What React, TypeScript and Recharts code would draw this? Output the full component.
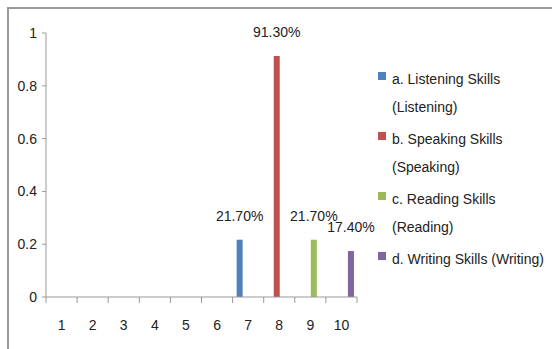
import { BarChart, Bar, XAxis, YAxis, LabelList } from 'recharts'

const categories = ['1', '2', '3', '4', '5', '6', '7', '8', '9', '10']
const listening = [null, null, null, null, null, null, 0.217, null, null, null]
const speaking = [null, null, null, null, null, null, null, 0.913, null, null]
const reading = [null, null, null, null, null, null, null, null, 0.217, null]
const writing = [null, null, null, null, null, null, null, null, null, 0.174]
const yTicks = [0, 0.2, 0.4, 0.6, 0.8, 1]

const seriesKeys = ['listening', 'speaking', 'reading', 'writing']
const seriesNames = [
  'a. Listening Skills (Listening)',
  'b. Speaking Skills (Speaking)',
  'c. Reading Skills (Reading)',
  'd. Writing Skills (Writing)',
]
const seriesColors = ['#4F81BD', '#C0504D', '#9BBB59', '#8064A2']

const rows = categories.map((name, i) => ({
  name,
  listening: listening[i],
  speaking: speaking[i],
  reading: reading[i],
  writing: writing[i],
}))

const FONT = "'Liberation Sans', Arial, sans-serif"
const W = 552
const H = 349
const MARGIN = { top: 33, right: 195, left: 0, bottom: 22 }
const Y_AXIS_W = 46
const BAND = (W - MARGIN.left - MARGIN.right - Y_AXIS_W) / categories.length

function PercentLabel(props: any) {
  const { x, y, width, value } = props
  if (value == null) return null
  return (
    <text x={x + width / 2} y={y - 19} textAnchor="middle" fontSize={14} fill="#222">
      {(value * 100).toFixed(2)}%
    </text>
  )
}

// category label plus a tick mark on the left edge of its band (and the right edge for the last one)
function CategoryTick(props: any) {
  const { x, y, payload, index } = props
  const left = x - BAND / 2
  const right = x + BAND / 2
  return (
    <g>
      <line x1={left} x2={left} y1={y} y2={y + 6} stroke="#999" />
      {index === categories.length - 1 && <line x1={right} x2={right} y1={y} y2={y + 6} stroke="#999" />}
      <text x={x} y={y + 23} dy="0.71em" textAnchor="middle" fontSize={14} fill="#222">
        {payload.value}
      </text>
    </g>
  )
}

export default function App() {
  return (
    <div style={{ position: 'absolute', left: 0, top: 0, width: W, height: H, background: '#fff', fontFamily: FONT }}>
      {/* outer frame: top and left edges only */}
      <div style={{ position: 'absolute', left: 7, top: 7, right: 0, bottom: 0, borderTop: '2px solid #9a9a9a', borderLeft: '2px solid #9a9a9a' }} />
      <BarChart width={W} height={H} data={rows} margin={MARGIN} barCategoryGap="13%" barGap={0}>
        <XAxis
          dataKey="name"
          stroke="#999"
          tickLine={false}
          tickSize={0}
          tickMargin={0}
          height={30}
          interval={0}
          tick={<CategoryTick />}
        />
        <YAxis
          domain={[0, 1]}
          ticks={yTicks}
          width={Y_AXIS_W}
          tickSize={4}
          tickMargin={5}
          stroke="#999"
          tick={{ fontSize: 14, fill: '#222' }}
        />
        {seriesKeys.map((key, i) => (
          <Bar key={key} dataKey={key} fill={seriesColors[i]} isAnimationActive={false}>
            <LabelList dataKey={key} content={PercentLabel} />
          </Bar>
        ))}
      </BarChart>
      <div style={{ position: 'absolute', left: 378, top: 65, width: 166, fontSize: 14, lineHeight: '28px', color: '#222' }}>
        {seriesNames.map((name, i) => (
          <div key={name} style={{ display: 'flex', alignItems: 'flex-start', marginBottom: 4, minHeight: 56 }}>
            <div style={{ width: 8, height: 8, marginTop: 7, marginRight: 6, flex: 'none', background: seriesColors[i] }} />
            <div style={{ width: 152 }}>{name}</div>
          </div>
        ))}
      </div>
    </div>
  )
}
